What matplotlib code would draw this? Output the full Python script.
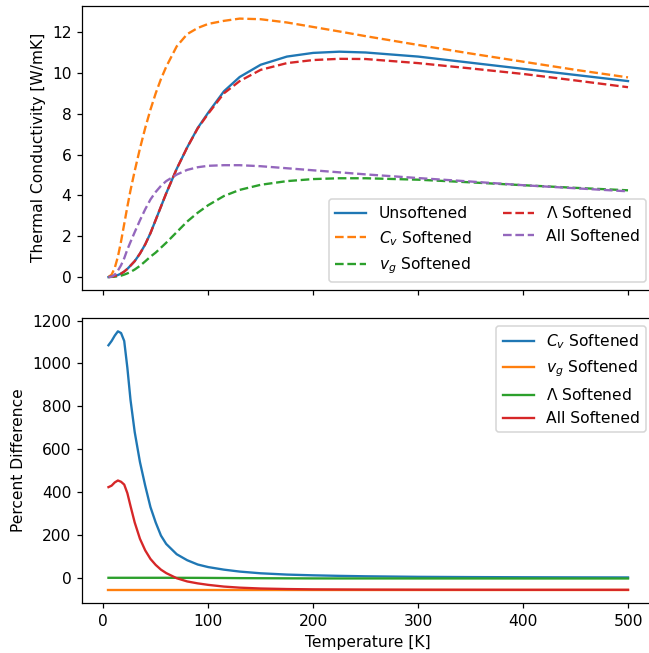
import matplotlib
matplotlib.use("Agg")
import matplotlib.pyplot as plt

# temperatures [K]
temps = [5, 8, 11, 14, 17, 20, 23, 26, 30, 35, 40, 45, 50, 55, 60, 70, 80, 90,
         100, 115, 130, 150, 175, 200, 225, 250, 300, 350, 400, 450, 500]

# thermal conductivity [W/mK]
k_unsoft = [0.0, 0.02, 0.05, 0.1, 0.17, 0.27, 0.4, 0.56, 0.78, 1.15, 1.6, 2.15,
            2.8, 3.45, 4.1, 5.3, 6.35, 7.3, 8.05, 9.1, 9.8, 10.4, 10.8, 10.98,
            11.04, 11.0, 10.8, 10.5, 10.2, 9.9, 9.6]
k_cv = [0.0, 0.12, 0.45, 1.0, 1.75, 2.6, 3.45, 4.25, 5.2, 6.3, 7.3, 8.2, 9.0,
        9.7, 10.3, 11.3, 11.9, 12.2, 12.4, 12.55, 12.66, 12.63, 12.47, 12.25,
        12.03, 11.8, 11.37, 10.95, 10.55, 10.15, 9.78]
k_vg = [0.0, 0.01, 0.02, 0.04, 0.07, 0.12, 0.18, 0.25, 0.37, 0.55, 0.77, 1.0,
        1.2, 1.44, 1.68, 2.2, 2.72, 3.15, 3.52, 3.97, 4.27, 4.52, 4.7, 4.8,
        4.84, 4.84, 4.77, 4.64, 4.5, 4.37, 4.25]
k_mfp = [0.0, 0.02, 0.05, 0.1, 0.17, 0.27, 0.4, 0.56, 0.78, 1.15, 1.6, 2.15,
         2.8, 3.45, 4.1, 5.3, 6.35, 7.28, 8.0, 9.0, 9.6, 10.15, 10.48, 10.63,
         10.69, 10.68, 10.48, 10.22, 9.95, 9.63, 9.3]
k_all = [0.0, 0.02, 0.12, 0.32, 0.58, 0.92, 1.35, 1.72, 2.2, 2.78, 3.32, 3.8,
         4.17, 4.47, 4.7, 5.02, 5.25, 5.38, 5.45, 5.48, 5.48, 5.43, 5.33, 5.23,
         5.13, 5.03, 4.85, 4.68, 4.5, 4.35, 4.2]

# percent difference from the unsoftened conductivity
pct_cv = [1085, 1105, 1130, 1150, 1142, 1105, 980, 830, 680, 540, 430, 330,
          258, 197, 158, 110, 82, 62, 50, 38, 29, 21, 15, 11.5, 9, 7, 4.5, 3.3,
          2.5, 2.0, 1.6]
pct_vg = [-56.0, -56.0, -56.0, -56.0, -56.0, -56.0, -56.0, -56.0, -56.0, -56.0,
          -56.0, -56.0, -56.0, -56.0, -56.0, -56.0, -56.0, -56.0, -56.0, -56.0,
          -56.0, -56.0, -56.0, -56.0, -56.0, -56.0, -56.0, -56.0, -56.0, -56.0,
          -56.0]
pct_mfp = [0.0, 0.0, 0.0, 0.0, 0.0, 0.0, 0.0, 0.0, 0.0, 0.0, 0.0, 0.0, 0.0,
           0.0, 0.0, -0.1, -0.2, -0.3, -0.6, -1.0, -1.6, -2.0, -2.5, -2.9, -3.0,
           -3.0, -3.1, -3.1, -3.2, -3.2, -3.2]
pct_all = [423, 430, 445, 454, 448, 435, 395, 335, 258, 182, 128, 88, 60, 38,
           22, -2, -17, -26, -33, -41, -46, -50, -52.5, -54, -54.5, -55, -55.5,
           -55.8, -56, -56, -56]

fig, (ax1, ax2) = plt.subplots(2, 1, sharex=True, figsize=(649 / 112, 653 / 112), dpi=112)
ax1.set_position([0.1271, 0.5559, 0.8806, 0.4354])
ax2.set_position([0.1271, 0.0770, 0.8806, 0.4354])

ax1.plot(temps, k_unsoft, label='Unsoftened')
ax1.plot(temps, k_cv, '--', label=r'$C_v$ Softened')
ax1.plot(temps, k_vg, '--', label=r'$v_g$ Softened')
ax1.plot(temps, k_mfp, '--', label=r'$\Lambda$ Softened')
ax1.plot(temps, k_all, '--', label='All Softened')
ax1.set_ylabel('Thermal Conductivity [W/mK]')
ax1.legend(loc='lower right', ncol=2)

ax2.plot(temps, pct_cv, label=r'$C_v$ Softened')
ax2.plot(temps, pct_vg, label=r'$v_g$ Softened')
ax2.plot(temps, pct_mfp, label=r'$\Lambda$ Softened')
ax2.plot(temps, pct_all, label='All Softened')
ax2.set_ylabel('Percent Difference')
ax2.set_xlabel('Temperature [K]')
ax2.legend(loc='upper right')

fig.savefig('out.png', dpi=112)
